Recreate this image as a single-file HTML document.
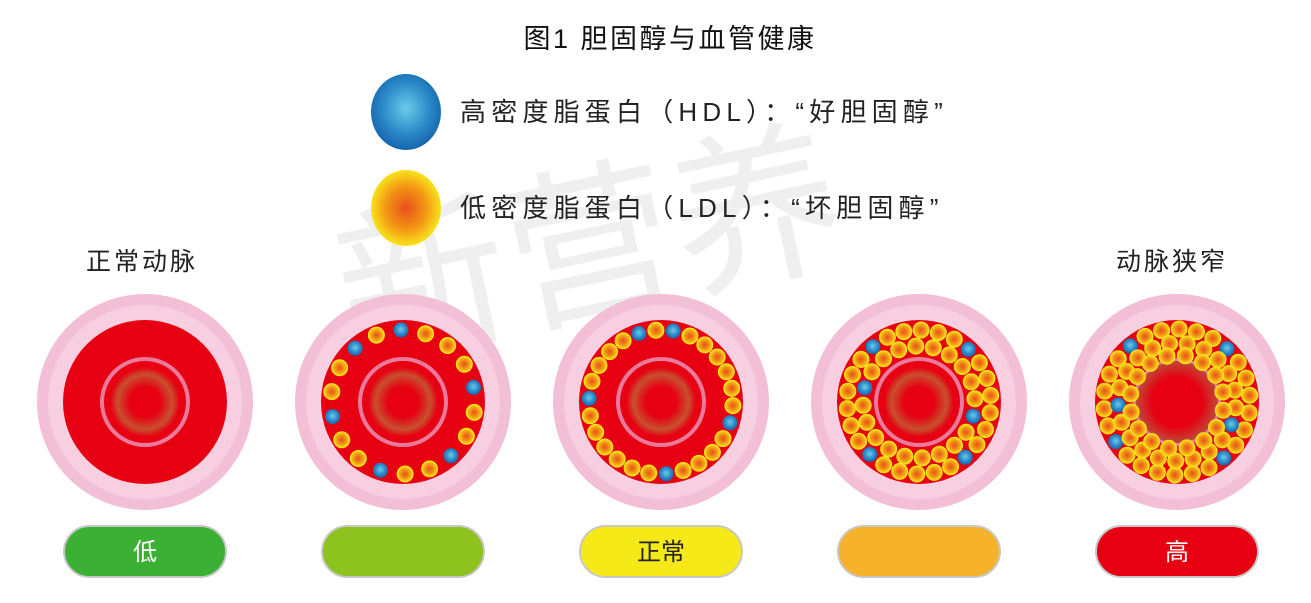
<!DOCTYPE html>
<html><head><meta charset="utf-8"><style>
body{margin:0;background:#fff;width:1311px;height:603px;overflow:hidden}
svg{display:block}
text{font-family:"Liberation Sans","Noto Sans CJK SC",sans-serif}
</style></head><body>
<svg id="s" width="1311" height="603" viewBox="0 0 1311 603" xmlns="http://www.w3.org/2000/svg">
<defs>
<radialGradient id="hdl" cx="50%" cy="45%" r="55%"><stop offset="0" stop-color="#6ccbe8"/><stop offset="0.6" stop-color="#2c8bc9"/><stop offset="1" stop-color="#1565ae"/></radialGradient>
<radialGradient id="ldl" cx="50%" cy="50%" r="50%"><stop offset="0" stop-color="#e8501c"/><stop offset="0.55" stop-color="#f39315"/><stop offset="1" stop-color="#f8e21a"/></radialGradient>
<radialGradient id="lum" cx="50%" cy="50%" r="50%"><stop offset="0.3" stop-color="#e60012"/><stop offset="0.55" stop-color="#c8502e"/><stop offset="0.7" stop-color="#e60012"/></radialGradient>
<radialGradient id="lum5" cx="50%" cy="50%" r="50%"><stop offset="0.6" stop-color="#e60012"/><stop offset="1" stop-color="#c0483a"/></radialGradient>
</defs>
<text x="670" y="48" font-size="27" letter-spacing="2.5" text-anchor="middle" fill="#111">图1 胆固醇与血管健康</text>
<text x="330" y="300" font-size="170" fill="#000" opacity="0.06" transform="rotate(-12 620 220)">新营养</text>
<ellipse cx="406" cy="112" rx="35" ry="38" fill="url(#hdl)"/>
<ellipse cx="406" cy="208" rx="35" ry="38" fill="url(#ldl)"/>
<text x="460" y="121" font-size="26" letter-spacing="5.2" fill="#222">高密度脂蛋白（HDL）：“好胆固醇”</text>
<text x="460" y="217" font-size="26" letter-spacing="5.2" fill="#222">低密度脂蛋白（LDL）：“坏胆固醇”</text>
<text x="86" y="270" font-size="25" letter-spacing="3" fill="#222">正常动脉</text>
<text x="1116" y="270" font-size="25" letter-spacing="3" fill="#222">动脉狭窄</text>
<g id="art"></g>
<g font-size="24" text-anchor="middle">
<rect x="64" y="526" width="162" height="51" rx="25.5" fill="#3cb034" stroke="#c8c8c8" stroke-width="2"/>
<text x="145" y="560" fill="#fff">低</text>
<rect x="322" y="526" width="162" height="51" rx="25.5" fill="#8dc21f" stroke="#c8c8c8" stroke-width="2"/>
<rect x="580" y="526" width="162" height="51" rx="25.5" fill="#f5e918" stroke="#c8c8c8" stroke-width="2"/>
<text x="661" y="560" fill="#222">正常</text>
<rect x="838" y="526" width="162" height="51" rx="25.5" fill="#f6b22a" stroke="#c8c8c8" stroke-width="2"/>
<rect x="1096" y="526" width="162" height="51" rx="25.5" fill="#e60012" stroke="#c8c8c8" stroke-width="2"/>
<text x="1177" y="560" fill="#fff">高</text>
</g>
</svg>
<script>
var g=document.getElementById('art'),h='';
var cx=[145,403,661,919,1177],cy=402;
function dot(x,y,b){h+='<circle cx="'+x.toFixed(1)+'" cy="'+y.toFixed(1)+'" r="'+(b?7.5:8)+'" fill="url(#'+(b?'hdl':'ldl')+')"'+(b?'':' stroke="#f8e21a" stroke-width="1"')+'/>';}
function ring(c,r,n,blues,off){for(var i=0;i<n;i++){var a=off+i*2*Math.PI/n;dot(cx[c]+r*Math.cos(a),cy+r*Math.sin(a),blues.indexOf(i)>=0);}}
for(var k=0;k<5;k++){
 var x=cx[k];
 h+='<circle cx="'+x+'" cy="'+cy+'" r="108" fill="#f3bfd6"/>';
 h+='<circle cx="'+x+'" cy="'+cy+'" r="97" fill="#f7cfe0"/>';
 h+='<circle cx="'+x+'" cy="'+cy+'" r="82" fill="#e60012"/>';
 if(k<4){h+='<circle cx="'+x+'" cy="'+cy+'" r="50" fill="url(#lum)"/><circle cx="'+x+'" cy="'+cy+'" r="43" fill="none" stroke="#e97a9c" stroke-width="4"/>';}
 else{h+='<circle cx="'+x+'" cy="'+cy+'" r="44" fill="#e97a9c"/><circle cx="'+x+'" cy="'+cy+'" r="41" fill="url(#lum5)"/>';}
}
ring(1,72,18,[0,4,7,10,13,16],-1.6);
ring(2,72,26,[0,7,12,19,24],-1.4);
ring(3,72,26,[2,9,15,22],-1.3);ring(3,56,20,[4,14],-1.0);
ring(4,73,26,[2,9,16,22],-1.3);ring(4,59,21,[5,14],-1.1);ring(4,47,16,[],-1.0);
g.innerHTML=h;
</script>
</body></html>
